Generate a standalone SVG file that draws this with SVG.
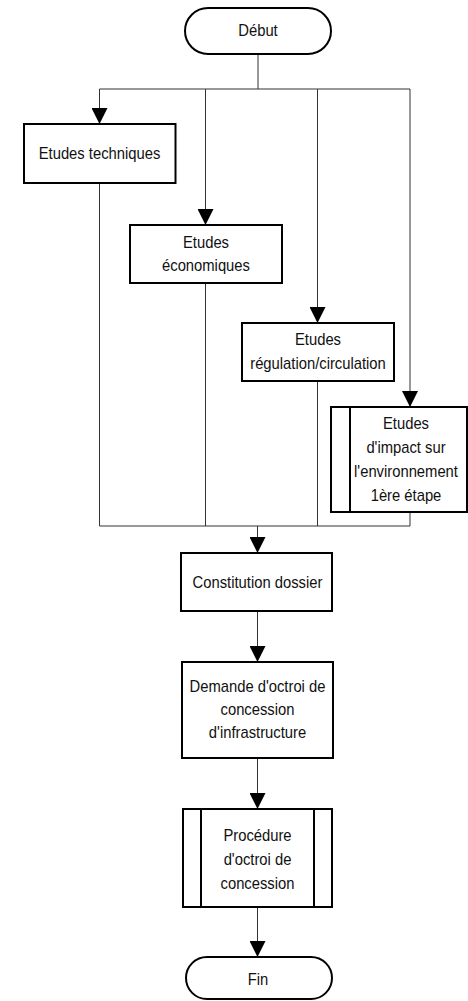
<svg xmlns="http://www.w3.org/2000/svg" width="468" height="1001" viewBox="0 0 468 1001">
<defs>
<style>
.box{fill:#fff;stroke:#000;stroke-width:2}
.ln{fill:none;stroke:#000;stroke-width:2}
.c{fill:none;stroke:#333;stroke-width:1}
text{font-family:"Liberation Sans",Arial,sans-serif;font-size:17px;fill:#111;text-anchor:middle}
</style>
<marker id="ah" viewBox="0 0 16 16" refX="16" refY="8" markerWidth="16" markerHeight="16" markerUnits="userSpaceOnUse" orient="auto">
<path d="M0,0 L16,8 L0,16 Z" fill="#000"/>
</marker>
</defs>
<rect width="468" height="1001" fill="#fff"/>
<g id="connectors">
<path class="c" d="M258,54 V89"/>
<path class="c" d="M99.5,89 H410"/>
<path class="c" d="M99.5,89 V124" marker-end="url(#ah)"/>
<path class="c" d="M205.5,89 V225" marker-end="url(#ah)"/>
<path class="c" d="M317.5,89 V323" marker-end="url(#ah)"/>
<path class="c" d="M410,89 V407" marker-end="url(#ah)"/>
<path class="c" d="M99.5,183 V526"/>
<path class="c" d="M205.5,283 V526"/>
<path class="c" d="M317.5,381 V526"/>
<path class="c" d="M410,512 V526"/>
<path class="c" d="M99.5,526 H410"/>
<path class="c" d="M257.5,526 V553" marker-end="url(#ah)"/>
<path class="c" d="M257.5,611 V662" marker-end="url(#ah)"/>
<path class="c" d="M257.5,758 V809" marker-end="url(#ah)"/>
<path class="c" d="M257.5,907 V957" marker-end="url(#ah)"/>
</g>
<g id="debut">
<rect class="box" x="185" y="8" width="146" height="46" rx="23"/>
<text transform="translate(258,36) scale(0.87,1)">Début</text>
</g>
<g id="etudes-techniques">
<rect class="box" x="24" y="124" width="151.5" height="59"/>
<text transform="translate(99.5,159) scale(0.87,1)">Etudes techniques</text>
</g>
<g id="etudes-economiques">
<rect class="box" x="130" y="225" width="152" height="58"/>
<text transform="translate(206,248) scale(0.87,1)">Etudes</text>
<text transform="translate(206,271) scale(0.87,1)">économiques</text>
</g>
<g id="etudes-regulation">
<rect class="box" x="242" y="323" width="152" height="58"/>
<text transform="translate(318,345) scale(0.87,1)">Etudes</text>
<text transform="translate(318,369) scale(0.87,1)">régulation/circulation</text>
</g>
<g id="etudes-impact">
<rect class="box" x="331" y="407" width="136" height="105"/>
<path class="ln" d="M350,407 V512"/>
<text transform="translate(406,429) scale(0.87,1)">Etudes</text>
<text transform="translate(406,453) scale(0.87,1)">d'impact sur</text>
<text transform="translate(406,477) scale(0.87,1)">l'environnement</text>
<text transform="translate(406,501) scale(0.87,1)">1ère étape</text>
</g>
<g id="constitution-dossier">
<rect class="box" x="181" y="553" width="151" height="58"/>
<text transform="translate(257.5,588) scale(0.87,1)">Constitution dossier</text>
</g>
<g id="demande-octroi">
<rect class="box" x="182" y="662" width="151" height="96"/>
<text transform="translate(257.5,692) scale(0.87,1)">Demande d'octroi de</text>
<text transform="translate(257.5,715) scale(0.87,1)">concession</text>
<text transform="translate(257.5,738) scale(0.87,1)">d'infrastructure</text>
</g>
<g id="procedure-octroi">
<rect class="box" x="183" y="809" width="149" height="98"/>
<path class="ln" d="M201,809 V907 M314,809 V907"/>
<text transform="translate(257.5,841) scale(0.87,1)">Procédure</text>
<text transform="translate(257.5,865) scale(0.87,1)">d'octroi de</text>
<text transform="translate(257.5,889) scale(0.87,1)">concession</text>
</g>
<g id="fin">
<rect class="box" x="186" y="957" width="146" height="42" rx="21"/>
<text transform="translate(258,985) scale(0.87,1)">Fin</text>
</g>
</svg>
